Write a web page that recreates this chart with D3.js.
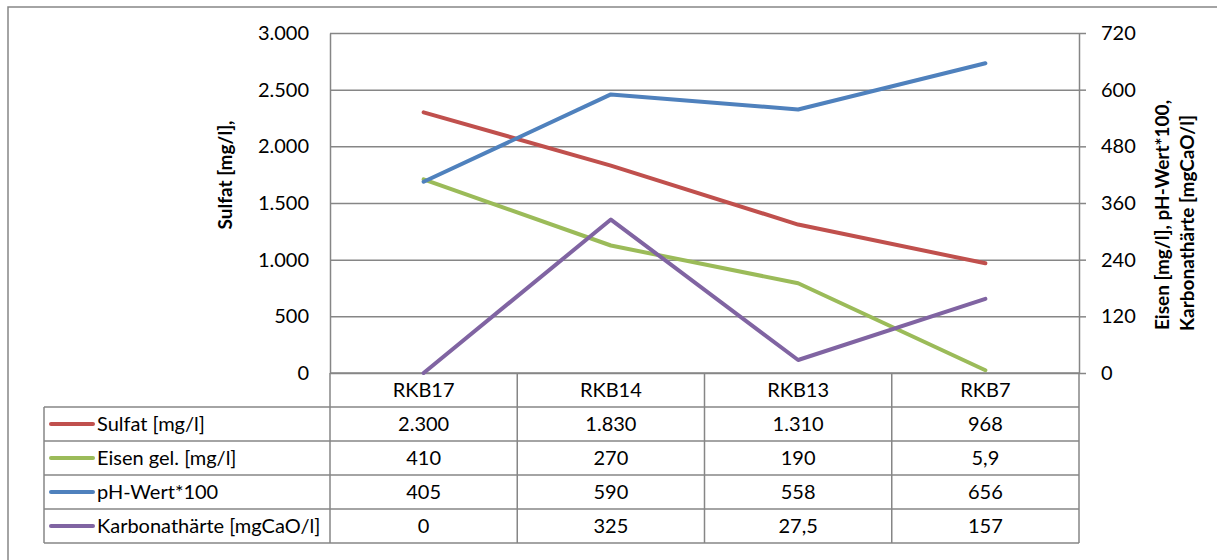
<!DOCTYPE html>
<html>
<head>
<meta charset="utf-8">
<script src="https://cdn.jsdelivr.net/npm/d3@7"></script>
<style>
  html, body { margin: 0; padding: 0; background: #fff; }
  svg { display: block; font-family: Lato, "Open Sans", sans-serif; }
</style>
</head>
<body>
<svg id="chart" width="1217" height="560"></svg>
<script>
// Sample sites along the x axis
const categories = ["RKB17", "RKB14", "RKB13", "RKB7"];

// Measured values per site
const sulfat = [2300, 1830, 1310, 968];          // left axis
const eisen = [410, 270, 190, 5.9];              // right axis
const phWert = [405, 590, 558, 656];             // right axis
const karbonat = [0, 325, 27.5, 157];            // right axis

// Axis ticks
const leftTicks = [0, 500, 1000, 1500, 2000, 2500, 3000];
const rightTicks = [0, 120, 240, 360, 480, 600, 720];

const series = [
  { name: "Sulfat [mg/l]", values: sulfat, axis: "left", color: "#C0504D" },
  { name: "Eisen gel. [mg/l]", values: eisen, axis: "right", color: "#9BBB59" },
  { name: "pH-Wert*100", values: phWert, axis: "right", color: "#4F81BD" },
  { name: "Karbonathärte [mgCaO/l]", values: karbonat, axis: "right", color: "#8064A2" }
];

const de = d3.formatLocale({ decimal: ",", thousands: ".", grouping: [3], currency: ["", " €"] });
const fmt = de.format(",");

const svg = d3.select("#chart");
const gridColor = "#868686";
const fontSize = 20;
const titleSize = 19;

// Plot area
const plot = { left: 330, right: 1079, top: 33, bottom: 373 };
const tableLeft = 44;
const rowH = 34;

const x = d3.scaleBand().domain(categories).range([plot.left, plot.right]).padding(0);
const yL = d3.scaleLinear().domain([0, 3000]).range([plot.bottom, plot.top]);
const yR = d3.scaleLinear().domain([0, 720]).range([plot.bottom, plot.top]);

// Outer chart border
svg.append("rect")
  .attr("x", 8).attr("y", 7).attr("width", 1215).attr("height", 560)
  .attr("fill", "none").attr("stroke", gridColor).attr("stroke-width", 1.5);

// Left axis with gridlines
const gLeft = svg.append("g")
  .attr("transform", `translate(${plot.left},0)`)
  .call(d3.axisLeft(yL).tickValues(leftTicks).tickFormat(fmt)
    .tickSizeInner(-(plot.right - plot.left)).tickSizeOuter(0).tickPadding(21));
gLeft.select(".domain").attr("stroke", gridColor).attr("stroke-width", 1.5);
gLeft.selectAll(".tick line").attr("stroke", gridColor).attr("stroke-width", 1.5);
gLeft.selectAll(".tick text").attr("font-size", fontSize).attr("fill", "#000")
  .attr("font-family", "Lato, sans-serif");

// Right axis
const gRight = svg.append("g")
  .attr("transform", `translate(${plot.right},0)`)
  .call(d3.axisRight(yR).tickValues(rightTicks).tickFormat(fmt)
    .tickSizeInner(7).tickSizeOuter(0).tickPadding(15));
gRight.select(".domain").attr("stroke", gridColor).attr("stroke-width", 1.5);
gRight.selectAll(".tick line").attr("stroke", gridColor).attr("stroke-width", 1.5);
gRight.selectAll(".tick text").attr("font-size", fontSize).attr("fill", "#000")
  .attr("font-family", "Lato, sans-serif");

// Axis titles
svg.append("text")
  .attr("transform", `translate(232,175) rotate(-90)`)
  .attr("text-anchor", "middle")
  .attr("font-size", titleSize).attr("font-weight", "bold")
  .text("Sulfat [mg/l],");

const rt = svg.append("text")
  .attr("transform", `translate(1169,215) rotate(-90)`)
  .attr("text-anchor", "middle")
  .attr("font-size", titleSize).attr("font-weight", "bold");
rt.append("tspan").attr("x", 0).attr("dy", 0).text("Eisen [mg/l], pH-Wert*100,");
rt.append("tspan").attr("x", -8).attr("dy", 25).text("Karbonathärte  [mgCaO/l]");

// Data table grid
const tableBottom = plot.bottom + rowH * 5;
const tg = svg.append("g").attr("stroke", gridColor).attr("stroke-width", 1.5).attr("fill", "none");
// horizontal lines
tg.append("line").attr("x1", plot.left).attr("x2", plot.right).attr("y1", plot.bottom).attr("y2", plot.bottom);
for (let i = 1; i <= 5; i++) {
  tg.append("line").attr("x1", tableLeft).attr("x2", plot.right)
    .attr("y1", plot.bottom + rowH * i).attr("y2", plot.bottom + rowH * i);
}
// vertical lines
tg.append("line").attr("x1", tableLeft).attr("x2", tableLeft)
  .attr("y1", plot.bottom + rowH).attr("y2", tableBottom);
categories.forEach(c => {
  tg.append("line").attr("x1", x(c)).attr("x2", x(c)).attr("y1", plot.bottom).attr("y2", tableBottom);
});
tg.append("line").attr("x1", plot.right).attr("x2", plot.right).attr("y1", plot.bottom).attr("y2", tableBottom);

// Category header row
svg.append("g").selectAll("text").data(categories).join("text")
  .attr("x", d => x(d) + x.bandwidth() / 2)
  .attr("y", plot.bottom + rowH / 2)
  .attr("dy", "0.35em")
  .attr("text-anchor", "middle")
  .attr("font-size", fontSize)
  .text(d => d);

// Series rows: legend key, name, values
series.forEach((s, i) => {
  const cy = plot.bottom + rowH * (i + 1) + rowH / 2;
  svg.append("line")
    .attr("x1", 51).attr("x2", 93).attr("y1", cy).attr("y2", cy)
    .attr("stroke", s.color).attr("stroke-width", 4).attr("stroke-linecap", "round");
  svg.append("text").attr("x", 97).attr("y", cy).attr("dy", "0.35em")
    .attr("font-size", fontSize).text(s.name);
  svg.append("g").selectAll("text").data(s.values).join("text")
    .attr("x", (d, j) => x(categories[j]) + x.bandwidth() / 2)
    .attr("y", cy).attr("dy", "0.35em")
    .attr("text-anchor", "middle")
    .attr("font-size", fontSize)
    .text(d => fmt(d));
});

// Series lines
series.forEach(s => {
  const yScale = s.axis === "left" ? yL : yR;
  const line = d3.line()
    .x((d, j) => x(categories[j]) + x.bandwidth() / 2)
    .y(d => yScale(d));
  svg.append("path")
    .datum(s.values)
    .attr("d", line)
    .attr("fill", "none")
    .attr("stroke", s.color)
    .attr("stroke-width", 4)
    .attr("stroke-linecap", "round")
    .attr("stroke-linejoin", "round");
});
</script>
</body>
</html>
